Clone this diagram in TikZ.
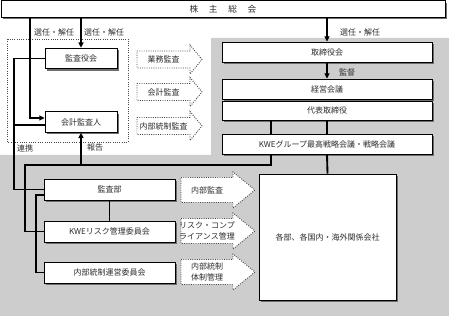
\documentclass[tikz,border=0pt]{standalone}
\usepackage{fontspec}
\setmainfont{Noto Sans CJK JP}
\usetikzlibrary{arrows.meta, calc, shadows}
\definecolor{bgGray}{HTML}{CDCDCD}
\definecolor{shadowGray}{HTML}{6E6E6E}
\definecolor{textDark}{HTML}{2D2D2D}
\definecolor{dotGray}{HTML}{4A4A4A}

\begin{document}
\begin{tikzpicture}[x=0.75pt, y=-0.75pt, font=\fontsize{6}{8}\selectfont,
    orgbox/.style={draw=black, line width=0.6pt, fill=white, text=textDark, inner sep=0pt,
      drop shadow={shadow xshift=1.5pt, shadow yshift=-1.5pt, fill=shadowGray, opacity=1}},
    auditbox/.style={orgbox, minimum width=54pt, minimum height=15.5pt},
    mgmtbox/.style={orgbox, minimum width=157.5pt, minimum height=15pt},
    cttebox/.style={orgbox, minimum width=98.25pt, minimum height=15.75pt},
    conn/.style={line width=1.4pt, black},
    sendarrow/.style={-{Triangle[length=4pt, width=3.8pt]}},
    dotarrow/.style={densely dotted, line width=0.7pt, draw=dotGray, fill=white},
    lbl/.style={text=textDark, inner sep=0pt}]
    \fill[bgGray] (211,38) -- (449,38) -- (449,316) -- (0,316) -- (0,155) -- (211,155) -- cycle;
    \useasboundingbox (0,0) rectangle (449,316);
    \draw[densely dotted, line width=0.7pt, dotGray] (7,39) rectangle (128,142);
    % audit flows
    \foreach \n/\y/\t in {gyomuA/59.5/業務監査, kaikeiA/92/会計監査, naiseiA/126/内部統制監査}{
      \draw[dotarrow] (137,\y-8.5) -- (190,\y-8.5) -- (190,\y-14.5) -- (202,\y)
        -- (190,\y+14.5) -- (190,\y+8.5) -- (137,\y+8.5) -- cycle;
      \node[lbl] (\n) at (163.5,\y) {\t};
    }
    \foreach \n/\y/\t in {naibuA/190/内部監査, riskA/231/{リスク・コンプ\\ライアンス管理}, naiseiB/272/{内部統制\\体制管理}}{
      \draw[dotarrow] (181,\y-12.5) -- (233,\y-12.5) -- (233,\y-18) -- (255,\y)
        -- (233,\y+18) -- (233,\y+12.5) -- (181,\y+12.5) -- cycle;
      \node[lbl, align=center] (\n) at (207,\y) {\t};
    }
    \node[orgbox, minimum width=333pt, minimum height=12.5pt, font=\fontsize{6.5}{8}\selectfont]
      (shareholders) at (223,9) {株\hspace{8pt}主\hspace{8pt}総\hspace{8pt}会};
    \node[auditbox] (kansayaku) at (81,58.5) {監査役会};
    \node[auditbox] (kaikei) at (81,122) {会計監査人};
    \node[mgmtbox] (tori) at (327,52) {取締役会};
    \node[mgmtbox] (keiei) at (327,89) {経営会議};
    \node[mgmtbox, minimum height=14.25pt] (daihyo) at (327,110.5) {代表取締役};
    \node[mgmtbox] (kwe) at (327,144) {KWEグループ最高戦略会議・戦略会議};
    \node[cttebox] (kansabu) at (109.5,189.5) {監査部};
    \node[cttebox] (risk) at (109.5,231.5) {KWEリスク管理委員会};
    \node[cttebox] (naibu) at (109.5,272.5) {内部統制運営委員会};
    \node[orgbox, minimum width=102.75pt, minimum height=94.5pt] (kakubu) at (327.5,237) {各部、各国内・海外関係会社};
    % connectors
    \coordinate (electL) at (30,118);
    \coordinate (linkL) at (14,0);
    \coordinate (ctrlL) at (36,0);
    \coordinate (hubR) at (271,165);
    \coordinate (hubL) at (25,165);
    \coordinate (kaikeiOut) at ($(kaikei.west)+(0,3)$);
    \coordinate (kansabuOut) at ($(kansabu.west)+(0,5.5)$);
    \draw[conn, sendarrow] (shareholders.south -| electL) -- (electL) -- (electL -| kaikei.west);
    \draw[conn, sendarrow] (shareholders.south -| kansayaku.north) -- (kansayaku.north);
    \draw[conn] (kansayaku.west) -- (kansayaku.west -| linkL) |- (kansabu.west);
    \draw[conn] (kaikeiOut) -- (kaikeiOut -| linkL);
    \draw[conn] (hubR |- kwe.south) -- (hubR) -- (hubL) |- (risk.west);
    \draw[conn, sendarrow] (hubL -| kaikei.south) -- (kaikei.south);
    \draw[conn] (kansabuOut) -- (kansabuOut -| ctrlL) |- (naibu.west);
    \draw[conn] (kansabu.south) -- (risk.north);
    \draw[conn, sendarrow] (shareholders.south -| tori.north) -- (tori.north);
    \draw[conn, sendarrow] (tori.south) -- (keiei.north);
    \draw[conn] (hubR |- daihyo.south) -- (hubR |- kwe.north);
    \draw[conn] (daihyo.south) -- (kwe.north);
    \draw[conn] (kwe.south) -- (kakubu.north);
    \node[lbl] (electA) at (54,32) {選任・解任};
    \node[lbl] (electB) at (104,32) {選任・解任};
    \node[lbl] (electC) at (360,32) {選任・解任};
    \node[lbl] (superv) at (347,72) {監督};
    \node[lbl] (liaison) at (25,148) {連携};
    \node[lbl] (report) at (95,148) {報告};
  \end{tikzpicture}
\end{document}
